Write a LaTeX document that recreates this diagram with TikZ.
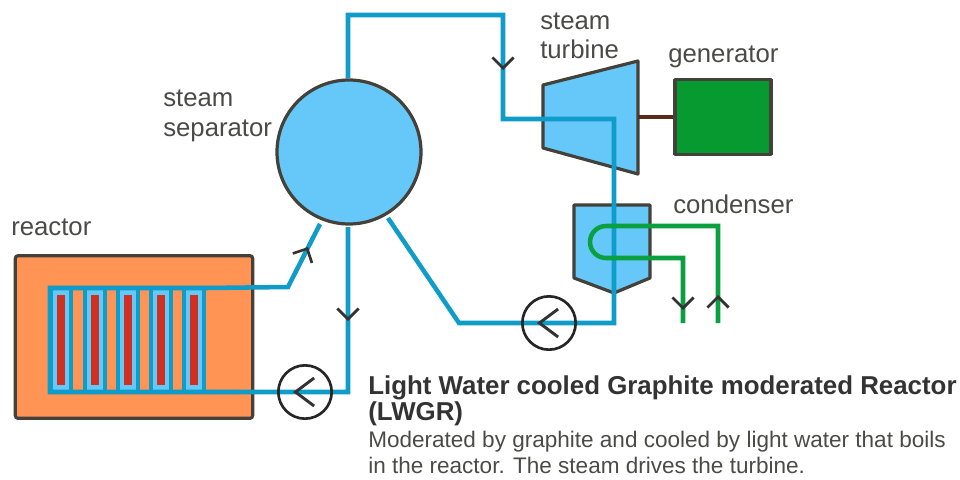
\documentclass[tikz,border=0pt]{standalone}
\usepackage{fontspec}
\setmainfont{Liberation Sans}
\usepackage{xcolor}
\usetikzlibrary{arrows.meta}
\definecolor{pipeblue}{HTML}{0F9CC8}
\definecolor{lightblue}{HTML}{66C8F8}
\definecolor{coreorange}{HTML}{FF9455}
\definecolor{rodred}{HTML}{D03020}
\definecolor{gengreen}{HTML}{069A30}
\definecolor{coolgreen}{HTML}{0AA040}
\definecolor{edgegray}{HTML}{44403A}
\definecolor{shaftbrown}{HTML}{5A2A1A}
\definecolor{textgray}{HTML}{4A4A46}
\tikzstyle{lbl}=[text=textgray,font=\fontsize{19.3pt}{22pt}\selectfont,inner sep=0pt,anchor=base west,align=left]
\tikzstyle{ttl}=[lbl,font=\bfseries\fontsize{19.4pt}{22pt}\selectfont,text=black!80]
\tikzstyle{desc}=[lbl,font=\fontsize{16.9pt}{20pt}\selectfont]
\tikzstyle{vessel}=[draw=edgegray,line width=2.4pt,line join=round]
\tikzstyle{pipe}=[draw=pipeblue,line width=3.4pt,line join=miter]
\tikzstyle{coolant}=[draw=coolgreen,line width=3.4pt]
\tikzstyle{chev}=[draw=black!80,line width=2pt,-{Straight Barb[length=8pt,width=16pt,line width=2pt]}]
\tikzstyle{bigchev}=[chev,-{Straight Barb[length=14pt,width=21pt,line width=2.2pt]}]
\tikzstyle{pump}=[circle,draw=black!85,line width=2pt,minimum size=40pt,inner sep=0pt]
\tikzstyle{channel}=[fill=lightblue,draw=pipeblue,line width=3pt,minimum width=15pt,minimum height=78pt,inner sep=0pt]
\tikzstyle{rod}=[fill=rodred,minimum width=6pt,minimum height=67pt,inner sep=0pt]
\begin{document}
\begin{tikzpicture}[x=0.75pt,y=-0.75pt]
	\useasboundingbox (0,0) rectangle (960,479);
	% equipment
	\node[vessel,fill=coreorange,rounded corners=2pt,minimum width=178pt,minimum height=122pt,inner sep=0pt] (reactor) at (134,337) {};
	\foreach \i/\xpos in {1/61,2/95,3/128,4/161,5/194}{
		\node[channel] (chan-\i) at (\xpos,340) {};
		\node[rod] (rod-\i) at (\xpos,340) {};
	}
	\coordinate (core-tr) at (206,288);
	\coordinate (core-tl) at (50,288);
	\coordinate (core-bl) at (50,392);
	\node[vessel,circle,fill=lightblue,minimum size=108pt,inner sep=0pt] (separator) at (349,152) {};
	\draw[vessel,fill=lightblue] (543,85) -- (638,61) -- (638,174) -- (543,148) -- cycle;
	\node[vessel,fill=gengreen,minimum width=72pt,minimum height=56pt,inner sep=0pt] (generator) at (723,117) {};
	\coordinate (shaft) at (638,117);
	\draw[shaftbrown,line width=2.4pt] (shaft) -- (generator.west);
	\draw[vessel,fill=lightblue] (574,205) -- (650,205) -- (650,278) -- (614,293) -- (574,278) -- cycle;
	% water circuit
	\coordinate (sep-top) at (348,78);
	\coordinate (c1) at (348,15);
	\coordinate (c2) at (503,15);
	\coordinate (c3) at (503,119);
	\coordinate (c4) at (614,119);
	\coordinate (c5) at (614,323);
	\coordinate (c6) at (459,323);
	\coordinate (sep-out) at (388,218);
	\coordinate (c7) at (288,287);
	\coordinate (sep-in) at (320,224);
	\coordinate (sep-bot) at (348,227);
	\coordinate (c8) at (348,392);
	\draw[pipe] (sep-bot) -- (c8) -- (core-bl) -- (core-tl) -- (core-tr) -- (c7) -- (sep-in);
	\draw[pipe] (sep-top) -- (c1) -- (c2) -- (c3) -- (c4) -- (c5) -- (c6) -- (sep-out);
	% cooling water
	\coordinate (cw-in) at (718,323);
	\coordinate (cw-a) at (718,226);
	\coordinate (cw-b) at (683,258);
	\coordinate (cw-out) at (683,323);
	\draw[coolant] (cw-in) -- (cw-a) -- (610,226) [rounded corners=12pt] -- (590,226) -- (590,258) [sharp corners] -- (cw-b) -- (cw-out);
	% pumps
	\node[pump] (pump-a) at (549,323) {};
	\node[pump] (pump-b) at (305,392) {};
	\draw[bigchev] (pump-a.center) ++(-11,0) -- ++(-1,0);
	\draw[bigchev] (pump-b.center) ++(-11,0) -- ++(-1,0);
	% flow marks
	\draw[chev] (503,69) -- (503,70);
	\draw[chev] (348,320) -- (348,321);
	\draw[chev] (307.5,248) -- (308,247);
	\draw[chev] (683,309) -- (683,310);
	\draw[chev] (718,296) -- (718,295);
	% texts
	\node[lbl] (lbl-reactor) at (11,235) {reactor};
	\node[lbl] (lbl-sep1) at (163,106) {steam};
	\node[lbl] (lbl-sep2) at (163,136) {separator};
	\node[lbl] (lbl-turb1) at (540,29) {steam};
	\node[lbl] (lbl-turb2) at (540,58) {turbine};
	\node[lbl] (lbl-gen) at (668,62) {generator};
	\node[lbl] (lbl-cond) at (673,213) {condenser};
	\node[ttl] (title1) at (368,394) {Light Water cooled Graphite moderated Reactor};
	\node[ttl] (title2) at (368,420) {(LWGR)};
	\node[desc] (desc1) at (368,447) {Moderated by graphite and cooled by light water that boils};
	\node[desc] (desc2) at (368,473) {in the reactor. The steam drives the turbine.};
\end{tikzpicture}
\end{document}
